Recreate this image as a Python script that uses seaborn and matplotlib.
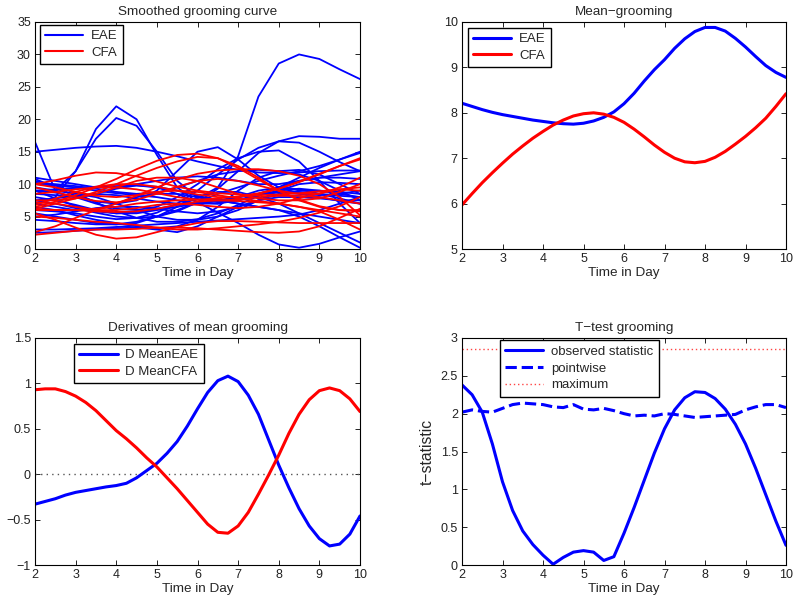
import numpy as np
import pandas as pd
import matplotlib
matplotlib.use("Agg")
import matplotlib.pyplot as plt
from matplotlib.ticker import FuncFormatter, MultipleLocator
from matplotlib.lines import Line2D
import seaborn as sns

# grids (days)
days_half = [2, 2.5, 3, 3.5, 4, 4.5, 5, 5.5, 6, 6.5, 7, 7.5, 8, 8.5, 9, 9.5, 10]
days_q = [2 + 0.25 * i for i in range(33)]

# smoothed grooming curves, EAE group (read at half-day steps)
eae_curves = [
    [9.0, 7.8, 6.6, 5.8, 5.5, 5.7, 6.2, 6.8, 7.8, 9.5, 14.3, 23.5, 28.6, 30.0, 29.3, 27.7, 26.2],
    [16.5, 9.0, 12.0, 18.5, 22.0, 20.0, 14.5, 9.5, 7.2, 7.0, 8.0, 9.0, 9.5, 9.2, 8.5, 7.8, 7.0],
    [7.0, 8.0, 12.0, 17.0, 20.2, 19.0, 15.0, 10.5, 8.0, 7.2, 7.5, 8.3, 9.0, 9.3, 9.0, 8.5, 8.0],
    [15.0, 15.3, 15.6, 15.8, 15.9, 15.6, 15.0, 14.3, 13.5, 12.8, 12.2, 11.8, 11.7, 11.8, 12.0, 12.1, 12.1],
    [10.8, 9.5, 8.2, 7.3, 7.0, 7.5, 9.0, 12.0, 15.0, 15.7, 13.8, 11.3, 9.5, 8.6, 8.3, 8.5, 9.0],
    [7.5, 7.0, 6.3, 5.6, 5.0, 4.8, 5.0, 5.8, 7.2, 9.3, 12.0, 14.8, 16.6, 17.4, 17.3, 17.0, 17.0],
    [6.0, 5.8, 5.5, 5.0, 4.6, 4.8, 5.6, 7.0, 9.0, 11.5, 13.8, 15.6, 16.6, 16.4, 15.0, 13.4, 12.0],
    [9.0, 8.7, 8.0, 7.0, 6.2, 6.0, 6.5, 8.0, 10.0, 12.3, 14.0, 15.0, 15.2, 13.5, 10.5, 7.0, 4.0],
    [8.5, 8.3, 8.0, 8.5, 9.3, 9.8, 9.5, 8.5, 7.2, 5.6, 4.0, 2.2, 0.7, 0.2, 0.8, 1.8, 2.7],
    [7.0, 6.5, 6.0, 6.2, 7.0, 8.0, 8.5, 8.5, 8.0, 7.5, 7.0, 6.5, 6.0, 5.0, 3.5, 1.8, 0.2],
    [5.5, 5.0, 4.5, 4.0, 3.8, 4.0, 5.0, 6.5, 8.0, 8.8, 8.8, 8.0, 7.0, 5.5, 4.0, 2.5, 1.0],
    [10.0, 9.8, 9.5, 9.0, 8.6, 8.3, 8.0, 7.5, 7.0, 7.0, 7.5, 8.5, 9.5, 11.0, 12.5, 13.8, 15.0],
    [4.5, 4.3, 4.0, 3.8, 3.8, 4.2, 5.0, 6.0, 7.2, 8.5, 9.5, 10.5, 11.3, 12.0, 12.8, 13.8, 14.8],
    [3.0, 3.0, 3.1, 3.2, 3.4, 3.6, 3.8, 4.0, 4.2, 4.4, 4.6, 4.8, 5.0, 5.3, 6.0, 7.0, 8.0],
    [2.5, 2.6, 2.8, 3.0, 3.2, 3.3, 3.0, 2.6, 3.5, 5.0, 6.5, 7.5, 8.0, 8.0, 7.8, 7.5, 7.5],
    [11.0, 10.5, 10.0, 9.5, 9.5, 10.0, 10.5, 11.0, 11.2, 11.0, 10.5, 10.0, 10.0, 10.5, 11.0, 11.5, 12.0],
    [9.5, 9.0, 8.5, 8.0, 7.0, 6.0, 5.0, 4.5, 4.5, 5.0, 6.0, 7.5, 9.0, 10.0, 10.3, 10.2, 10.0],
    [8.0, 7.5, 6.8, 6.0, 5.5, 5.5, 6.0, 6.5, 7.0, 7.5, 8.0, 8.5, 8.8, 8.8, 8.5, 8.2, 8.0],
    [6.5, 6.0, 5.2, 4.5, 4.0, 3.5, 3.2, 3.5, 4.5, 6.5, 9.0, 11.0, 12.0, 12.2, 11.5, 10.0, 8.5],
    [9.0, 9.2, 9.4, 9.6, 9.7, 9.8, 9.6, 9.0, 8.2, 7.5, 7.0, 6.5, 6.0, 5.5, 5.0, 4.5, 4.0],
    [10.5, 9.8, 8.6, 7.2, 5.8, 4.8, 4.2, 4.2, 4.6, 5.5, 6.8, 8.2, 9.5, 10.5, 11.0, 11.0, 10.8],
    [7.5, 7.8, 8.2, 8.5, 8.3, 7.8, 7.3, 7.0, 7.0, 7.4, 8.0, 8.5, 8.7, 8.5, 8.0, 7.4, 7.0],
    [5.0, 5.3, 5.8, 6.3, 6.5, 6.5, 6.2, 5.8, 5.5, 5.8, 6.5, 7.5, 8.5, 9.0, 9.0, 8.8, 8.5],
    [10.2, 10.0, 9.7, 9.3, 8.8, 8.5, 8.7, 9.5, 10.5, 11.5, 12.0, 12.2, 12.0, 11.5, 10.5, 9.0, 7.5],
]

# smoothed grooming curves, CFA group
cfa_curves = [
    [6.5, 7.3, 8.3, 9.5, 10.8, 12.3, 13.6, 14.5, 14.7, 14.0, 12.5, 10.7, 9.0, 7.6, 6.6, 6.0, 5.8],
    [6.2, 6.0, 6.0, 6.2, 6.5, 7.0, 7.3, 7.5, 7.6, 7.8, 8.1, 8.6, 9.3, 10.3, 11.5, 12.8, 14.0],
    [6.8, 7.8, 8.8, 9.6, 10.0, 10.0, 9.6, 9.0, 8.4, 8.0, 8.0, 8.5, 9.3, 10.4, 11.6, 12.8, 13.8],
    [10.0, 10.6, 11.3, 11.8, 11.7, 11.2, 10.4, 9.6, 9.0, 8.6, 8.4, 8.3, 8.4, 8.6, 8.9, 9.2, 9.5],
    [5.5, 4.5, 3.3, 2.2, 1.6, 1.8, 2.6, 3.4, 4.0, 4.3, 4.3, 4.2, 4.1, 4.0, 4.0, 4.0, 4.0],
    [2.2, 2.5, 2.8, 3.0, 3.0, 3.1, 3.3, 3.3, 3.2, 3.0, 2.8, 2.6, 2.5, 2.7, 3.5, 4.8, 6.2],
    [2.6, 3.5, 4.8, 6.0, 7.0, 8.2, 9.5, 10.7, 11.6, 12.1, 12.3, 12.3, 12.0, 11.3, 10.0, 8.0, 5.2],
    [10.0, 9.5, 8.8, 8.2, 8.0, 8.3, 8.8, 9.0, 8.8, 8.3, 7.8, 7.4, 7.0, 6.5, 5.8, 4.5, 3.0],
    [7.2, 7.0, 6.5, 6.0, 6.0, 6.3, 6.8, 7.0, 6.8, 6.5, 6.3, 6.5, 7.0, 7.8, 8.6, 9.2, 9.0],
    [5.0, 4.8, 4.5, 4.2, 4.0, 3.7, 3.3, 3.0, 3.0, 3.2, 3.5, 3.8, 4.2, 4.8, 5.6, 6.6, 8.0],
    [9.5, 8.8, 8.0, 7.4, 7.2, 7.6, 8.5, 9.6, 10.5, 10.8, 10.5, 9.8, 9.0, 8.5, 8.5, 9.5, 11.0],
    [7.5, 7.5, 7.8, 8.5, 9.5, 10.5, 11.0, 11.0, 10.5, 9.5, 8.5, 7.8, 7.5, 7.5, 7.8, 8.8, 10.0],
    [6.0, 6.0, 6.0, 5.8, 5.7, 5.8, 6.2, 6.8, 7.3, 7.5, 7.4, 7.2, 7.0, 6.5, 6.0, 5.5, 5.0],
    [6.2, 7.0, 7.8, 8.8, 10.0, 11.3, 12.5, 13.5, 14.2, 14.0, 12.8, 11.0, 9.0, 7.5, 6.5, 6.0, 6.0],
    [8.5, 8.8, 9.2, 9.5, 9.5, 9.2, 8.6, 8.0, 7.6, 7.5, 7.6, 8.0, 8.2, 8.2, 8.0, 7.5, 7.0],
]

# mean grooming (quarter-day steps)
mean_eae = [8.21, 8.14, 8.07, 8.01, 7.96, 7.92, 7.88, 7.84, 7.81, 7.78, 7.76, 7.75, 7.77, 7.82,
            7.90, 8.02, 8.20, 8.43, 8.70, 8.95, 9.17, 9.42, 9.63, 9.79, 9.88, 9.88, 9.80, 9.64,
            9.45, 9.24, 9.04, 8.89, 8.78]
mean_cfa = [5.97, 6.22, 6.46, 6.68, 6.89, 7.09, 7.27, 7.44, 7.59, 7.73, 7.84, 7.93, 7.98, 8.00,
            7.97, 7.90, 7.79, 7.64, 7.47, 7.29, 7.13, 7.00, 6.92, 6.90, 6.93, 7.02, 7.15, 7.31,
            7.48, 7.67, 7.88, 8.14, 8.42]

# derivatives of the means
d_mean_eae = [-0.33, -0.30, -0.27, -0.23, -0.20, -0.18, -0.16, -0.14, -0.125, -0.10, -0.04, 0.04,
              0.12, 0.23, 0.36, 0.53, 0.72, 0.90, 1.03, 1.08, 1.02, 0.87, 0.66, 0.38, 0.10,
              -0.15, -0.38, -0.57, -0.71, -0.79, -0.77, -0.66, -0.46]
d_mean_cfa = [0.93, 0.94, 0.94, 0.91, 0.86, 0.79, 0.70, 0.59, 0.48, 0.39, 0.29, 0.18, 0.08, -0.04,
              -0.16, -0.29, -0.42, -0.55, -0.64, -0.65, -0.57, -0.42, -0.22, -0.01, 0.21, 0.45,
              0.66, 0.82, 0.92, 0.95, 0.92, 0.83, 0.69]

# t-test
t_observed = [2.38, 2.25, 2.02, 1.60, 1.10, 0.72, 0.45, 0.27, 0.13, 0.01, 0.10, 0.17, 0.19, 0.17,
              0.06, 0.11, 0.42, 0.76, 1.12, 1.48, 1.80, 2.05, 2.21, 2.29, 2.28, 2.20, 2.06, 1.86,
              1.60, 1.28, 0.93, 0.58, 0.26]
t_pointwise = [2.02, 2.05, 2.03, 2.02, 2.07, 2.12, 2.14, 2.13, 2.12, 2.09, 2.08, 2.12, 2.06, 2.05,
               2.07, 2.04, 2.00, 1.97, 1.98, 1.97, 2.00, 1.99, 1.97, 1.95, 1.96, 1.97, 1.98, 1.99,
               2.05, 2.09, 2.12, 2.12, 2.08]
t_maximum = 2.85

sns.set_style("ticks")
plt.rcParams["font.family"] = ["Liberation Sans", "DejaVu Sans"]
plt.rcParams["axes.unicode_minus"] = True

fig = plt.figure(figsize=(7.95, 6.02), dpi=100)
W, H = 795.0, 602.0
def box(l, t, r, b):
    return [l / W, 1 - b / H, (r - l) / W, (b - t) / H]

ax1 = fig.add_axes(box(35, 22, 360, 249))
ax2 = fig.add_axes(box(462, 22, 786, 249))
ax3 = fig.add_axes(box(35, 338, 360, 565))
ax4 = fig.add_axes(box(462, 338, 786, 565))

fmt = FuncFormatter(lambda v, p: ("%g" % v).replace("-", "\u2212"))
FS = 9
LFS = 9.7

def style(ax, ylim, ystep, title):
    ax.set_xlim(2, 10)
    ax.set_ylim(*ylim)
    ax.xaxis.set_major_locator(MultipleLocator(1))
    ax.yaxis.set_major_locator(MultipleLocator(ystep))
    ax.yaxis.set_major_formatter(fmt)
    ax.tick_params(direction="in", top=True, right=True, length=3.5, width=0.7,
                   labelsize=FS, pad=3, colors="#222222")
    for s in ax.spines.values():
        s.set_linewidth(0.8)
        s.set_color("black")
    ax.set_title(title, fontsize=LFS, pad=5)
    ax.set_xlabel("Time in Day", fontsize=LFS, labelpad=1)
    ax.set_ylabel("")

def legend(ax, labels, colors, styles, lw, anchor):
    handles = [Line2D([], [], color=c, ls=s, lw=w) for c, s, w in zip(colors, styles, lw)]
    lg = ax.legend(handles, labels, loc="upper left", bbox_to_anchor=anchor, fontsize=9.5,
                   fancybox=False, framealpha=1, edgecolor="black", handlelength=2.9,
                   borderpad=0.4, labelspacing=0.35, handletextpad=0.6, borderaxespad=0)
    lg.get_frame().set_linewidth(1.0)

# panel 1: spaghetti
rows = []
for i, c in enumerate(eae_curves):
    for d, v in zip(days_half, c):
        rows.append(("EAE", "e%d" % i, d, v))
for i, c in enumerate(cfa_curves):
    for d, v in zip(days_half, c):
        rows.append(("CFA", "c%d" % i, d, v))
spag = pd.DataFrame(rows, columns=["group", "curve", "day", "value"])
sns.lineplot(data=spag[spag.group == "EAE"], x="day", y="value", units="curve",
             estimator=None, color="#0000ff", lw=1.3, ax=ax1, legend=False)
sns.lineplot(data=spag[spag.group == "CFA"], x="day", y="value", units="curve",
             estimator=None, color="#ff0000", lw=1.3, ax=ax1, legend=False)
style(ax1, (0, 35), 5, "Smoothed grooming curve")
legend(ax1, ["EAE", "CFA"], ["#0000ff", "#ff0000"], ["-", "-"], [1.5, 1.5], (0.015, 0.988))

# panel 2: means
sns.lineplot(x=days_q, y=mean_eae, color="#0000ff", lw=2.2, ax=ax2)
sns.lineplot(x=days_q, y=mean_cfa, color="#ff0000", lw=2.2, ax=ax2)
style(ax2, (5, 10), 1, "Mean\u2212grooming")
legend(ax2, ["EAE", "CFA"], ["#0000ff", "#ff0000"], ["-", "-"], [2.2, 2.2], (0.018, 0.975))

# panel 3: derivatives
ax3.axhline(0, color="#555555", ls=(0, (1, 3)), lw=1.0)
sns.lineplot(x=days_q, y=d_mean_eae, color="#0000ff", lw=2.2, ax=ax3)
sns.lineplot(x=days_q, y=d_mean_cfa, color="#ff0000", lw=2.2, ax=ax3)
style(ax3, (-1, 1.5), 0.5, "Derivatives of mean grooming")
legend(ax3, ["D MeanEAE", "D MeanCFA"], ["#0000ff", "#ff0000"], ["-", "-"], [2.2, 2.2],
       (0.12, 0.975))

# panel 4: t-test
ax4.axhline(t_maximum, color="#ff4444", ls=(0, (1, 2)), lw=1.0)
sns.lineplot(x=days_q, y=t_observed, color="#0000ff", lw=2.2, ax=ax4)
sns.lineplot(x=days_q, y=t_pointwise, color="#0000ff", lw=2.2, ls="--", ax=ax4)
style(ax4, (0, 3), 0.5, "T\u2212test grooming")
ax4.set_ylabel("t\u2212statistic", fontsize=11.3, labelpad=4)
legend(ax4, ["observed statistic", "pointwise", "maximum"], ["#0000ff", "#0000ff", "#ff4444"],
       ["-", "--", (0, (1, 2))], [2.2, 2.2, 1.0], (0.117, 0.99))

fig.savefig("out.png", dpi=100)
